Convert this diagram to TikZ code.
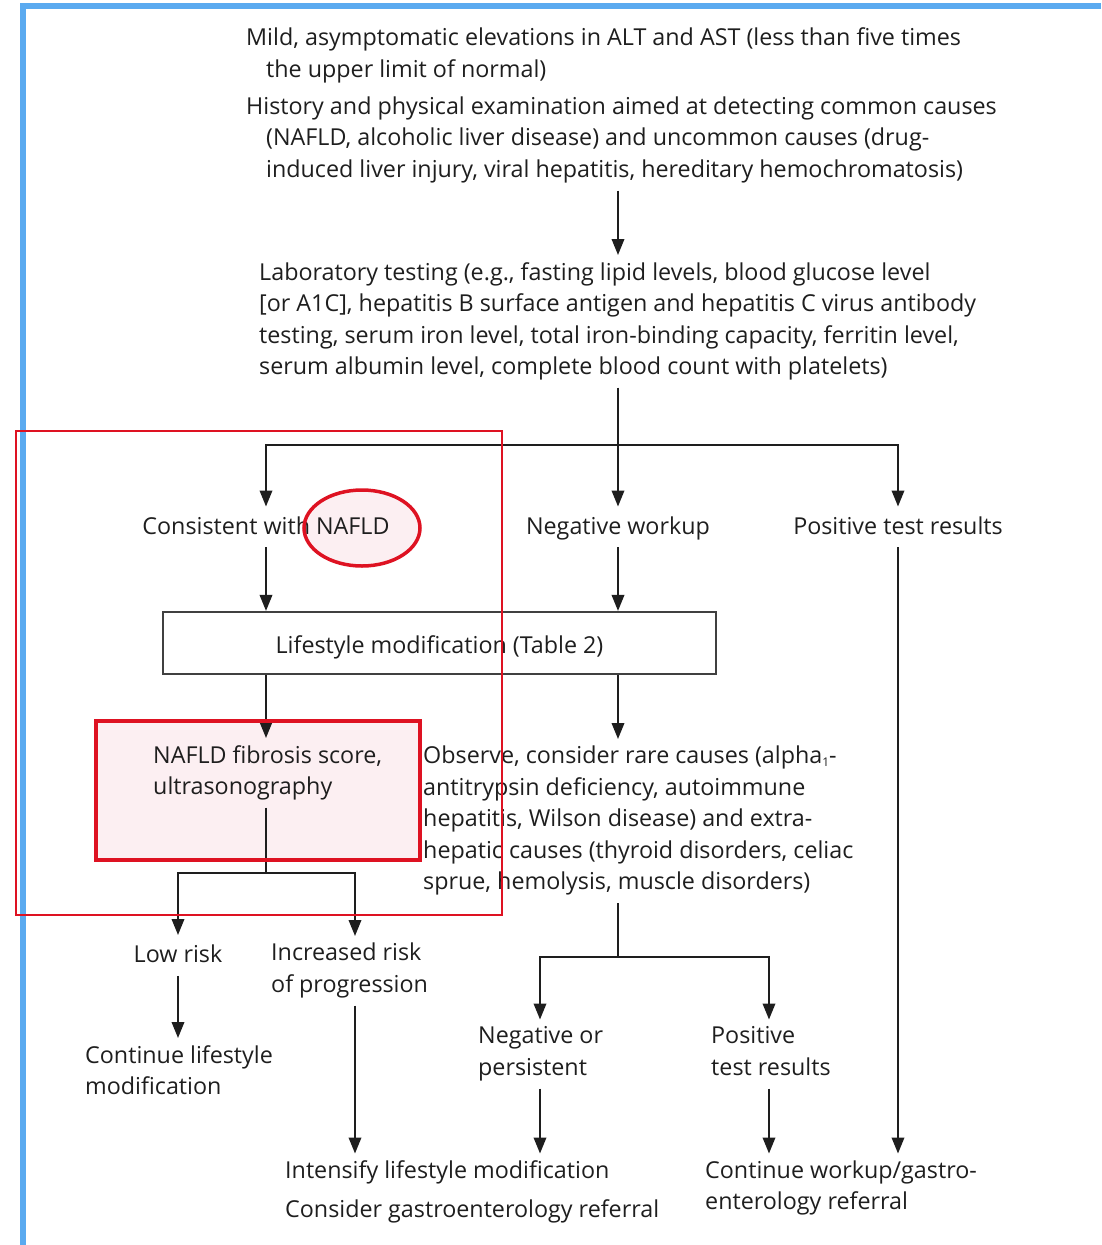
\documentclass[tikz,border=0pt]{standalone}
\usepackage{fontspec}
\setmainfont{Open Sans}
\usetikzlibrary{arrows.meta}
\definecolor{framebl}{RGB}{90,170,240}
\definecolor{ink}{RGB}{30,30,30}
\definecolor{hlred}{RGB}{222,18,34}
\definecolor{hlpink}{RGB}{252,239,242}
% fixed ascender/descender so that every text block has the same top and bottom gap
\newcommand\upstrut{\rule{0pt}{20.5pt}}
\newcommand\downstrut{\rule[-6pt]{0pt}{6pt}}
\newcommand\lowidx[1]{\raisebox{-3pt}{\fontsize{12}{12}\selectfont #1}}

\begin{document}
\begin{tikzpicture}[x=1pt,y=-1pt,
  font=\fontsize{23.3}{31.5}\selectfont, text=ink,
  txt/.style={inner xsep=0pt, inner ysep=7pt, align=left,
    execute at begin node=\upstrut, execute at end node=\downstrut},
  ctxt/.style={txt, align=center, anchor=north},
  ltxt/.style={txt, anchor=north west},
  conn/.style={draw=ink, line width=2pt},
  arr/.style={conn, -{Triangle[length=16pt,width=12.5pt]}},
  stepbox/.style={draw=ink!85, line width=2.2pt, minimum width=553pt,
    minimum height=62pt, text height=24pt, text depth=4pt, inner sep=0pt},
  ]
\useasboundingbox (0,0) rectangle (1101,1245);

% page frame
\fill[framebl] (20,3) rectangle (1101,8.5);
\fill[framebl] (20,3) rectangle (26,1245);

% highlight fills (under the text)
\fill[hlpink] (96,721) rectangle (420,860);
\fill[hlpink] (362,528) ellipse [x radius=58pt, y radius=38pt];

% text blocks
\node[ltxt] (mild) at (246,20.5) {Mild, asymptomatic elevations in ALT and AST (less than five times\\
  \hspace*{20pt}the upper limit of normal)};
\node[ltxt] (hist) at (246,89.5) {History and physical examination aimed at detecting common causes\\
  \hspace*{20pt}(NAFLD, alcoholic liver disease) and uncommon causes (drug-\\
  \hspace*{20pt}induced liver injury, viral hepatitis, hereditary hemochromatosis)};
\node[ltxt] (lab) at (259,255) {Laboratory testing (e.g., fasting lipid levels, blood glucose level\\{}[or A1C], hepatitis B surface antigen and hepatitis C virus antibody\\
  testing, serum iron level, total iron-binding capacity, ferritin level,\\
  serum albumin level, complete blood count with platelets)};
\node[ctxt] (cons) at (266,506.5) {Consistent with NAFLD};
\node[ctxt] (neg) at (618,506.5) {Negative workup};
\node[ctxt] (pos) at (898,506.5) {Positive test results};
\node[stepbox] (life) at (439.5,643) {Lifestyle modification (Table 2)};
\node[ltxt] (fib) at (153,738) {NAFLD fibrosis score,\\ultrasonography};
\node[ltxt] (obs) at (423,739) {Observe, consider rare causes (alpha\lowidx{1}-\\
  antitrypsin deficiency, autoimmune\\
  hepatitis, Wilson disease) and extra-\\
  hepatic causes (thyroid disorders, celiac\\
  sprue, hemolysis, muscle disorders)};
\node[ctxt] (low) at (178,935) {Low risk};
\node[ltxt] (inc) at (271,936) {Increased risk\\of progression};
\node[ltxt] (contls) at (85,1038) {Continue lifestyle\\modification};
\node[ltxt] (negor) at (478,1019.5) {Negative or\\persistent};
\node[ltxt] (posr) at (711,1019.5) {Positive\\test results};
\node[ltxt] (intens) at (285,1153.5) {Intensify lifestyle modification\\[7.5pt]
  Consider gastroenterology referral};
\node[ltxt] (cwork) at (705,1153.5) {Continue workup/gastro-\\enterology referral};

% branch points and arrow columns
\coordinate (split) at (618,445);
\coordinate (fsplit) at (266,873);
\coordinate (osplit) at (618,957);
\coordinate (xinc) at (355,0);
\coordinate (xneg) at (540,0);
\coordinate (xpos) at (769,0);

% connectors
\draw[arr] (hist.south -| neg) -- (lab.north -| neg);
\draw[conn] (lab.south -| neg) -- (split);
\draw[arr] (split) -- (neg.north);
\draw[arr] (split) -| (cons.north);
\draw[arr] (split) -| (pos.north);
\draw[arr] (cons.south) -- (cons.south |- life.north);
\draw[arr] (neg.south) -- (neg.south |- life.north);
\draw[arr] (life.south -| cons) -- (fib.north -| cons);
\draw[arr] (life.south -| neg) -- (obs.north -| neg);
\draw[conn] (fib.south -| cons) -- (fsplit);
\draw[arr] (fsplit) -| (low.north);
\draw[arr] (fsplit) -| (inc.north -| xinc);
\draw[arr] (low.south) -- (low.south |- contls.north);
\draw[arr] (inc.south -| xinc) -- (intens.north -| xinc);
\draw[conn] (obs.south -| neg) -- (osplit);
\draw[arr] (osplit) -| (negor.north -| xneg);
\draw[arr] (osplit) -| (posr.north -| xpos);
\draw[arr] (negor.south -| xneg) -- (intens.north -| xneg);
\draw[arr] (posr.south -| xpos) -- (cwork.north -| xpos);
\draw[arr] (pos.south) -- (pos.south |- cwork.north);

% red highlight outlines (on top)
\draw[hlred, line width=3.5pt] (96,721) rectangle (420,860);
\draw[hlred, line width=3.5pt] (362,528) ellipse [x radius=58pt, y radius=38pt];
\draw[hlred, line width=2.8pt] (16,431) rectangle (502,915);
\end{tikzpicture}
\end{document}
